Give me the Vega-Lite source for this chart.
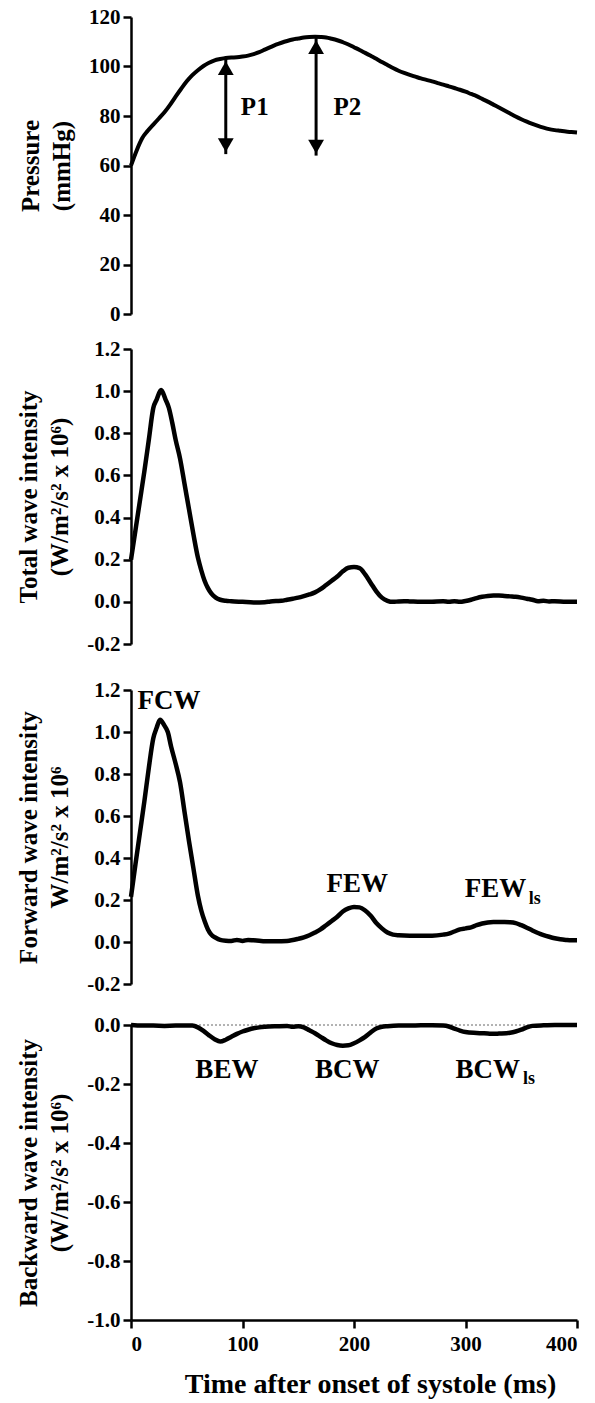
{
  "$schema": "https://vega.github.io/schema/vega-lite/v6.json",
  "autosize": {"type": "pad"},
  "padding": {"left": 16, "top": 6, "right": 2, "bottom": 3},
  "background": "white",
  "config": {
    "view": {"stroke": null},
    "axis": {
      "grid": false,
      "domainColor": "#000", "domainWidth": 2.5,
      "tickColor": "#000", "tickWidth": 2.5, "tickSize": 8,
      "labelFont": "Liberation Serif", "labelFontSize": 21, "labelFontWeight": "bold", "labelColor": "#000", "labelPadding": 3,
      "titleFont": "Liberation Serif", "titleFontSize": 25, "titleFontWeight": "bold", "titleColor": "#000", "titleLineHeight": 31, "titlePadding": 14
    },
    "text": {"font": "Liberation Serif", "fontWeight": "bold", "color": "#000", "baseline": "middle", "align": "center"}
  },
  "datasets": {
    "pressure": [
      {"t":0,"v":60},{"t":5,"v":66},{"t":10,"v":71},{"t":15,"v":74},{"t":20,"v":76.5},{"t":25,"v":79},{"t":30,"v":81.5},{"t":35,"v":84.5},{"t":40,"v":87.8},{"t":45,"v":91},{"t":50,"v":94},{"t":55,"v":96.5},{"t":60,"v":98.5},{"t":65,"v":100.2},{"t":70,"v":101.5},{"t":75,"v":102.5},{"t":80,"v":103},{"t":85,"v":103.4},{"t":90,"v":103.6},{"t":95,"v":103.7},{"t":100,"v":104},{"t":105,"v":104.4},{"t":110,"v":105},{"t":115,"v":105.8},{"t":120,"v":106.8},{"t":125,"v":107.8},{"t":130,"v":108.8},{"t":135,"v":109.6},{"t":140,"v":110.3},{"t":145,"v":110.9},{"t":150,"v":111.3},{"t":155,"v":111.7},{"t":160,"v":111.9},{"t":165,"v":112},{"t":170,"v":111.9},{"t":175,"v":111.7},{"t":180,"v":111.2},{"t":185,"v":110.6},{"t":190,"v":109.8},{"t":195,"v":108.9},{"t":200,"v":107.8},{"t":205,"v":106.7},{"t":210,"v":105.5},{"t":215,"v":104.3},{"t":220,"v":103.1},{"t":225,"v":101.8},{"t":230,"v":100.6},{"t":235,"v":99.4},{"t":240,"v":98.3},{"t":245,"v":97.4},{"t":250,"v":96.6},{"t":255,"v":95.9},{"t":260,"v":95.2},{"t":265,"v":94.6},{"t":270,"v":94},{"t":275,"v":93.3},{"t":280,"v":92.7},{"t":285,"v":92},{"t":290,"v":91.3},{"t":295,"v":90.6},{"t":300,"v":89.8},{"t":305,"v":88.9},{"t":310,"v":88},{"t":315,"v":86.9},{"t":320,"v":85.8},{"t":325,"v":84.6},{"t":330,"v":83.4},{"t":335,"v":82.2},{"t":340,"v":81},{"t":345,"v":79.8},{"t":350,"v":78.7},{"t":355,"v":77.7},{"t":360,"v":76.8},{"t":365,"v":76},{"t":370,"v":75.3},{"t":375,"v":74.7},{"t":380,"v":74.3},{"t":385,"v":74},{"t":390,"v":73.7},{"t":395,"v":73.5},{"t":400,"v":73.3}
    ],
    "arrows": [
      {"t":85,"v":103,"v2":64.6,"label":"P1","lt":111,"lv":83.8},
      {"t":166,"v":111.5,"v2":64,"label":"P2","lt":194,"lv":83.8}
    ],
    "total": [
      {"t":0,"v":0.2},{"t":4,"v":0.34},{"t":8,"v":0.48},{"t":12,"v":0.62},{"t":16,"v":0.77},{"t":20,"v":0.92},{"t":23,"v":0.96},{"t":27,"v":1.005},{"t":31,"v":0.96},{"t":34,"v":0.92},{"t":37,"v":0.85},{"t":40,"v":0.77},{"t":44,"v":0.68},{"t":48,"v":0.56},{"t":52,"v":0.44},{"t":56,"v":0.32},{"t":60,"v":0.21},{"t":63,"v":0.15},{"t":66,"v":0.1},{"t":69,"v":0.065},{"t":72,"v":0.04},{"t":76,"v":0.02},{"t":80,"v":0.01},{"t":85,"v":0.005},{"t":90,"v":0.003},{"t":100,"v":0},{"t":110,"v":-0.003},{"t":120,"v":-0.002},{"t":125,"v":0.002},{"t":130,"v":0.004},{"t":135,"v":0.005},{"t":140,"v":0.01},{"t":145,"v":0.015},{"t":150,"v":0.02},{"t":155,"v":0.027},{"t":160,"v":0.035},{"t":165,"v":0.045},{"t":170,"v":0.06},{"t":175,"v":0.08},{"t":180,"v":0.1},{"t":185,"v":0.12},{"t":190,"v":0.145},{"t":195,"v":0.162},{"t":200,"v":0.165},{"t":205,"v":0.16},{"t":210,"v":0.13},{"t":215,"v":0.09},{"t":220,"v":0.05},{"t":225,"v":0.02},{"t":230,"v":0.005},{"t":235,"v":0},{"t":240,"v":0.002},{"t":245,"v":0.003},{"t":250,"v":0.002},{"t":260,"v":0},{"t":270,"v":0.001},{"t":280,"v":0.003},{"t":285,"v":0},{"t":290,"v":0.003},{"t":295,"v":0},{"t":300,"v":0.004},{"t":305,"v":0.01},{"t":310,"v":0.018},{"t":315,"v":0.024},{"t":320,"v":0.028},{"t":325,"v":0.03},{"t":330,"v":0.03},{"t":335,"v":0.028},{"t":340,"v":0.026},{"t":345,"v":0.024},{"t":350,"v":0.02},{"t":355,"v":0.015},{"t":360,"v":0.01},{"t":365,"v":0.003},{"t":370,"v":0.005},{"t":375,"v":0.002},{"t":380,"v":0.003},{"t":390,"v":0.001},{"t":400,"v":0.001}
    ],
    "forward": [
      {"t":0,"v":0.215},{"t":4,"v":0.37},{"t":8,"v":0.52},{"t":12,"v":0.67},{"t":16,"v":0.83},{"t":20,"v":0.97},{"t":23,"v":1.02},{"t":26,"v":1.058},{"t":30,"v":1.03},{"t":33,"v":1.0},{"t":36,"v":0.93},{"t":40,"v":0.85},{"t":44,"v":0.76},{"t":48,"v":0.62},{"t":52,"v":0.48},{"t":56,"v":0.35},{"t":60,"v":0.22},{"t":63,"v":0.15},{"t":66,"v":0.1},{"t":69,"v":0.06},{"t":72,"v":0.035},{"t":76,"v":0.02},{"t":80,"v":0.01},{"t":85,"v":0.006},{"t":90,"v":0.005},{"t":95,"v":0.01},{"t":100,"v":0.005},{"t":105,"v":0.01},{"t":110,"v":0.008},{"t":115,"v":0.006},{"t":120,"v":0.004},{"t":130,"v":0.003},{"t":140,"v":0.005},{"t":150,"v":0.015},{"t":155,"v":0.022},{"t":160,"v":0.032},{"t":165,"v":0.045},{"t":170,"v":0.06},{"t":175,"v":0.08},{"t":180,"v":0.1},{"t":185,"v":0.12},{"t":190,"v":0.145},{"t":195,"v":0.16},{"t":200,"v":0.167},{"t":205,"v":0.165},{"t":210,"v":0.15},{"t":215,"v":0.125},{"t":220,"v":0.09},{"t":225,"v":0.065},{"t":230,"v":0.045},{"t":235,"v":0.035},{"t":240,"v":0.032},{"t":250,"v":0.03},{"t":260,"v":0.03},{"t":270,"v":0.03},{"t":280,"v":0.035},{"t":285,"v":0.04},{"t":290,"v":0.05},{"t":295,"v":0.06},{"t":300,"v":0.065},{"t":305,"v":0.07},{"t":310,"v":0.08},{"t":315,"v":0.088},{"t":320,"v":0.093},{"t":325,"v":0.095},{"t":330,"v":0.095},{"t":335,"v":0.095},{"t":340,"v":0.094},{"t":345,"v":0.09},{"t":350,"v":0.08},{"t":355,"v":0.068},{"t":360,"v":0.055},{"t":365,"v":0.043},{"t":370,"v":0.033},{"t":375,"v":0.025},{"t":380,"v":0.018},{"t":385,"v":0.013},{"t":390,"v":0.01},{"t":395,"v":0.008},{"t":400,"v":0.008}
    ],
    "backward": [
      {"t":0,"v":0},{"t":10,"v":-0.002},{"t":20,"v":-0.002},{"t":30,"v":-0.003},{"t":40,"v":-0.002},{"t":50,"v":-0.002},{"t":55,"v":-0.002},{"t":60,"v":-0.008},{"t":65,"v":-0.02},{"t":70,"v":-0.035},{"t":75,"v":-0.048},{"t":80,"v":-0.056},{"t":85,"v":-0.05},{"t":90,"v":-0.04},{"t":95,"v":-0.03},{"t":100,"v":-0.022},{"t":105,"v":-0.016},{"t":110,"v":-0.011},{"t":115,"v":-0.008},{"t":120,"v":-0.006},{"t":130,"v":-0.004},{"t":140,"v":-0.003},{"t":145,"v":-0.006},{"t":150,"v":-0.004},{"t":155,"v":-0.008},{"t":160,"v":-0.018},{"t":165,"v":-0.028},{"t":170,"v":-0.04},{"t":175,"v":-0.052},{"t":180,"v":-0.062},{"t":185,"v":-0.068},{"t":190,"v":-0.07},{"t":195,"v":-0.069},{"t":200,"v":-0.062},{"t":205,"v":-0.052},{"t":210,"v":-0.04},{"t":215,"v":-0.025},{"t":220,"v":-0.012},{"t":225,"v":-0.006},{"t":230,"v":-0.004},{"t":240,"v":-0.002},{"t":250,"v":-0.002},{"t":260,"v":-0.001},{"t":270,"v":-0.001},{"t":280,"v":-0.002},{"t":285,"v":-0.005},{"t":290,"v":-0.012},{"t":295,"v":-0.019},{"t":300,"v":-0.024},{"t":310,"v":-0.027},{"t":320,"v":-0.029},{"t":325,"v":-0.03},{"t":330,"v":-0.029},{"t":340,"v":-0.026},{"t":345,"v":-0.022},{"t":350,"v":-0.016},{"t":355,"v":-0.008},{"t":360,"v":-0.003},{"t":370,"v":-0.001},{"t":380,"v":0},{"t":390,"v":0},{"t":400,"v":0}
    ],
    "fwdLabels": [
      {"t":34,"v":1.15,"label":"FCW"},
      {"t":203,"v":0.275,"label":"FEW"},
      {"t":327,"v":0.251,"label":"FEW"}
    ],
    "fwdSub": [{"t":362,"v":0.204,"label":"ls"}],
    "bwdLabels": [
      {"t":86,"v":-0.152,"label":"BEW"},
      {"t":194,"v":-0.152,"label":"BCW"},
      {"t":320,"v":-0.152,"label":"BCW"}
    ],
    "bwdSub": [{"t":357,"v":-0.183,"label":"ls"}]
  },
  "spacing": 25,
  "vconcat": [
    {
      "bounds": "flush",
      "spacing": 35,
      "vconcat": [
        {
          "width": 446, "height": 297,
          "layer": [
            {
              "data": {"name": "pressure"},
              "mark": {"type": "line", "color": "#000", "strokeWidth": 4, "interpolate": "monotone"},
              "encoding": {
                "x": {"field": "t", "type": "quantitative", "scale": {"domain": [0, 400]}, "axis": null},
                "y": {"field": "v", "type": "quantitative", "scale": {"domain": [0, 120]},
                      "axis": {"values": [0, 20, 40, 60, 80, 100, 120], "format": "d", "title": ["Pressure", "(mmHg)"]}}
              }
            },
            {
              "data": {"name": "arrows"},
              "mark": {"type": "rule", "color": "#000", "strokeWidth": 3},
              "encoding": {
                "x": {"field": "t", "type": "quantitative", "scale": {"domain": [0, 400]}},
                "y": {"field": "v", "type": "quantitative", "scale": {"domain": [0, 120]}},
                "y2": {"field": "v2"}
              }
            },
            {
              "data": {"name": "arrows"},
              "mark": {"type": "point", "shape": "triangle-up", "filled": true, "color": "#000", "size": 250, "opacity": 1, "yOffset": 9},
              "encoding": {
                "x": {"field": "t", "type": "quantitative", "scale": {"domain": [0, 400]}},
                "y": {"field": "v", "type": "quantitative", "scale": {"domain": [0, 120]}}
              }
            },
            {
              "data": {"name": "arrows"},
              "mark": {"type": "point", "shape": "triangle-down", "filled": true, "color": "#000", "size": 250, "opacity": 1, "yOffset": -9},
              "encoding": {
                "x": {"field": "t", "type": "quantitative", "scale": {"domain": [0, 400]}},
                "y": {"field": "v2", "type": "quantitative", "scale": {"domain": [0, 120]}}
              }
            },
            {
              "data": {"name": "arrows"},
              "mark": {"type": "text", "fontSize": 25},
              "encoding": {
                "x": {"field": "lt", "type": "quantitative", "scale": {"domain": [0, 400]}},
                "y": {"field": "lv", "type": "quantitative", "scale": {"domain": [0, 120]}},
                "text": {"field": "label"}
              }
            }
          ]
        },
        {
          "width": 446, "height": 295,
          "layer": [
            {
              "data": {"name": "total"},
              "mark": {"type": "line", "color": "#000", "strokeWidth": 4.5, "interpolate": "monotone"},
              "encoding": {
                "x": {"field": "t", "type": "quantitative", "scale": {"domain": [0, 400]}, "axis": null},
                "y": {"field": "v", "type": "quantitative", "scale": {"domain": [-0.2, 1.2]},
                      "axis": {"values": [-0.2, 0, 0.2, 0.4, 0.6, 0.8, 1.0, 1.2], "labelExpr": "replace(format(datum.value, '.1f'), '\u2212', '-')",
                               "title": ["Total wave intensity", "(W/m²/s² x 10⁶)"]}}
              }
            }
          ]
        }
      ]
    },
    {
      "bounds": "flush",
      "spacing": 41,
      "vconcat": [
        {
          "width": 446, "height": 294,
          "layer": [
            {
              "data": {"name": "forward"},
              "mark": {"type": "line", "color": "#000", "strokeWidth": 4.5, "interpolate": "monotone"},
              "encoding": {
                "x": {"field": "t", "type": "quantitative", "scale": {"domain": [0, 400]}, "axis": null},
                "y": {"field": "v", "type": "quantitative", "scale": {"domain": [-0.2, 1.2]},
                      "axis": {"values": [-0.2, 0, 0.2, 0.4, 0.6, 0.8, 1.0, 1.2], "labelExpr": "replace(format(datum.value, '.1f'), '\u2212', '-')",
                               "title": ["Forward wave intensity", "W/m²/s² x 10⁶"]}}
              }
            },
            {
              "data": {"name": "fwdLabels"},
              "mark": {"type": "text", "fontSize": 27},
              "encoding": {
                "x": {"field": "t", "type": "quantitative", "scale": {"domain": [0, 400]}},
                "y": {"field": "v", "type": "quantitative", "scale": {"domain": [-0.2, 1.2]}},
                "text": {"field": "label"}
              }
            },
            {
              "data": {"name": "fwdSub"},
              "mark": {"type": "text", "fontSize": 18},
              "encoding": {
                "x": {"field": "t", "type": "quantitative", "scale": {"domain": [0, 400]}},
                "y": {"field": "v", "type": "quantitative", "scale": {"domain": [-0.2, 1.2]}},
                "text": {"field": "label"}
              }
            }
          ]
        },
        {
          "width": 446, "height": 295,
          "layer": [
            {
              "data": {"values": [{}]},
              "mark": {"type": "rule", "color": "#666", "strokeWidth": 1, "strokeDash": [2, 2]},
              "encoding": {"y": {"datum": 0, "type": "quantitative", "scale": {"domain": [-1, 0]}}}
            },
            {
              "data": {"name": "backward"},
              "mark": {"type": "line", "color": "#000", "strokeWidth": 4.5, "interpolate": "monotone"},
              "encoding": {
                "x": {"field": "t", "type": "quantitative", "scale": {"domain": [0, 400]},
                      "axis": {"values": [0, 100, 200, 300, 400], "title": "Time after onset of systole (ms)", "titleFontSize": 28, "titlePadding": 16, "labelPadding": 5, "titleX": 239}},
                "y": {"field": "v", "type": "quantitative", "scale": {"domain": [-1, 0]},
                      "axis": {"values": [-1, -0.8, -0.6, -0.4, -0.2, 0], "labelExpr": "replace(format(datum.value, '.1f'), '\u2212', '-')",
                               "title": ["Backward wave intensity", "(W/m²/s² x 10⁶)"]}}
              }
            },
            {
              "data": {"name": "bwdLabels"},
              "mark": {"type": "text", "fontSize": 27},
              "encoding": {
                "x": {"field": "t", "type": "quantitative", "scale": {"domain": [0, 400]}},
                "y": {"field": "v", "type": "quantitative", "scale": {"domain": [-1, 0]}},
                "text": {"field": "label"}
              }
            },
            {
              "data": {"name": "bwdSub"},
              "mark": {"type": "text", "fontSize": 18},
              "encoding": {
                "x": {"field": "t", "type": "quantitative", "scale": {"domain": [0, 400]}},
                "y": {"field": "v", "type": "quantitative", "scale": {"domain": [-1, 0]}},
                "text": {"field": "label"}
              }
            }
          ]
        }
      ]
    }
  ]
}
